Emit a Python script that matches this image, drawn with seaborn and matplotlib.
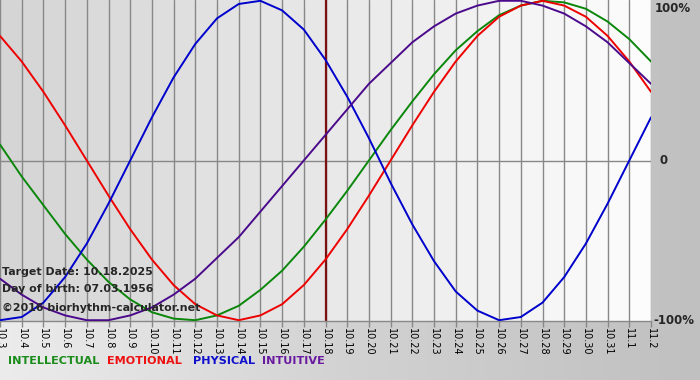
import numpy as np
import pandas as pd
import seaborn as sns
import matplotlib.pyplot as plt
from matplotlib.colors import LinearSegmentedColormap

# ---------------- Data ----------------
dates = ["10.3", "10.4", "10.5", "10.6", "10.7", "10.8", "10.9", "10.10", "10.11",
         "10.12", "10.13", "10.14", "10.15", "10.16", "10.17", "10.18", "10.19",
         "10.20", "10.21", "10.22", "10.23", "10.24", "10.25", "10.26", "10.27",
         "10.28", "10.29", "10.30", "10.31", "11.1", "11.2"]

physical = [-1.00, -0.98, -0.89, -0.73, -0.52, -0.27, 0.00, 0.27, 0.52, 0.73, 0.89,
            0.98, 1.00, 0.94, 0.82, 0.63, 0.40, 0.14, -0.14, -0.40, -0.63, -0.82,
            -0.94, -1.00, -0.98, -0.89, -0.73, -0.52, -0.27, 0.00, 0.27]
emotional = [0.78, 0.62, 0.43, 0.22, 0.00, -0.22, -0.43, -0.62, -0.78, -0.90, -0.97,
             -1.00, -0.97, -0.90, -0.78, -0.62, -0.43, -0.22, 0.00, 0.22, 0.43, 0.62,
             0.78, 0.90, 0.97, 1.00, 0.97, 0.90, 0.78, 0.62, 0.43]
intellectual = [0.10, -0.10, -0.28, -0.46, -0.62, -0.76, -0.87, -0.95, -0.99, -1.00,
                -0.97, -0.91, -0.81, -0.69, -0.54, -0.37, -0.19, 0.00, 0.19, 0.37, 0.54,
                0.69, 0.81, 0.91, 0.97, 1.00, 0.99, 0.95, 0.87, 0.76, 0.62]
intuitive = [-0.74, -0.84, -0.92, -0.97, -1.00, -1.00, -0.97, -0.92, -0.84, -0.74,
             -0.61, -0.48, -0.32, -0.16, 0.00, 0.16, 0.32, 0.48, 0.61, 0.74, 0.84,
             0.92, 0.97, 1.00, 1.00, 0.97, 0.92, 0.84, 0.74, 0.61, 0.48]

target_date = "10.18"
series_names = ["INTELLECTUAL", "EMOTIONAL", "PHYSICAL", "INTUITIVE"]
series_colors = {"INTELLECTUAL": "#0a870a", "EMOTIONAL": "#ee0000",
                 "PHYSICAL": "#0000cc", "INTUITIVE": "#4b0a8c"}
legend_colors = {"INTELLECTUAL": "#1a8c1a", "EMOTIONAL": "#ee1111",
                 "PHYSICAL": "#1010cc", "INTUITIVE": "#6a1aa0"}

# -----------------------------
# Long-form table for seaborn
# -----------------------------
day_idx = np.arange(len(dates))
df = pd.DataFrame({
    "day": np.tile(day_idx, 4),
    "value": intellectual + emotional + physical + intuitive,
    "cycle": np.repeat(series_names, len(dates)),
})

sns.set_style("white")
plt.rcParams['font.family'] = ['DejaVu Sans']

fig = plt.figure(figsize=(7, 3.8), dpi=100)

# figure background gradient (light left -> darker right)
bg = fig.add_axes([0, 0, 1, 1], zorder=-10)
bg_cmap = LinearSegmentedColormap.from_list("bg", ["#ececec", "#d2d2d2", "#c0c0c0"])
bg.imshow(np.linspace(0, 1, 256).reshape(1, -1), aspect="auto", cmap=bg_cmap,
          extent=[0, 1, 0, 1])
bg.set_axis_off()

ax = fig.add_axes([0, 59 / 380, 651 / 700, 321 / 380])
ax.set_xlim(0, len(dates) - 1)
ax.set_ylim(-1.005, 1.005)

# stepped light gradient, one shade per day column
col_cmap = LinearSegmentedColormap.from_list("cols", ["#d5d5d5", "#fcfcfc"])
ax.imshow(np.linspace(0, 1, len(dates) - 1).reshape(1, -1), aspect="auto",
          cmap=col_cmap, extent=[0, len(dates) - 1, -1.005, 1.005],
          interpolation="nearest", zorder=0)

for d in day_idx:
    ax.axvline(d, color="#888888", lw=1.0, zorder=1)
ax.axhline(0, color="#888888", lw=1.0, zorder=1)
ax.axvline(dates.index(target_date), color="#7a1010", lw=1.6, zorder=2)

sns.lineplot(data=df, x="day", y="value", hue="cycle", palette=series_colors,
             hue_order=series_names, lw=1.4, legend=False, ax=ax, zorder=3)

for s in ["top", "left", "right"]:
    ax.spines[s].set_visible(False)
ax.spines["bottom"].set_color("#888888")
ax.spines["bottom"].set_linewidth(1.0)

ax.set_xticks(day_idx)
ax.set_xticklabels(dates, rotation=-90, fontsize=7, color="black")
ax.tick_params(axis="x", length=4, width=1, color="#888888", pad=1, bottom=True)
ax.set_yticks([])
ax.set_xlabel("")
ax.set_ylabel("")

# right side percentage labels
for y, lab, dx, va in [(0.995, "100%", 0.17, "top"), (0.0, "0", 0.4, "center"),
                       (-1.0, "-100%", 0.12, "center")]:
    ax.text(len(dates) - 1 + dx, y, lab, fontsize=8.5, fontweight="bold",
            va=va, ha="left", clip_on=False)

# info text bottom left
info = ["Target Date: 10.18.2025", "Day of birth: 07.03.1956",
        "©2016 biorhythm-calculator.net"]
for k, line in enumerate(info):
    fig.text(2 / 700, 1 - (272 + 17 * k + (2 if k == 2 else 0)) / 380, line,
             fontsize=7.9, fontweight="bold", va="center", ha="left")

# coloured legend words
legend_x = [8, 107, 193, 262]
for name, x in zip(series_names, legend_x):
    fig.text(x / 700, 1 - 361 / 380, name, color=legend_colors[name], fontsize=8.1,
             fontweight="bold", va="center", ha="left")

plt.savefig("out.png", dpi=100)
